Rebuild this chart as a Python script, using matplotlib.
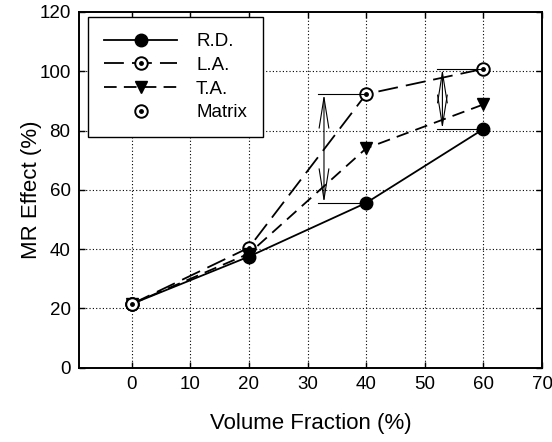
import matplotlib.pyplot as plt
from matplotlib.legend_handler import HandlerTuple

plt.rcParams['font.family'] = ['Liberation Sans', 'DejaVu Sans']

# data
vf = [0, 20, 40, 60]
rd = [21.5, 37.5, 55.6, 80.5]
la = [21.5, 40.5, 92.3, 100.8]
ta = [21.5, 38.5, 74.0, 88.8]
matrix_x = [0]
matrix_y = [21.5]

fig, ax = plt.subplots(figsize=(5.52, 4.42), dpi=100)
fig.subplots_adjust(left=0.143, right=0.982, top=0.973, bottom=0.168)

l_rd, = ax.plot(vf, rd, '-', color='k', lw=1.3, marker='o', ms=9,
                mfc='k', mec='k')
l_la, = ax.plot(vf, la, color='k', lw=1.3, dashes=(11, 4.5), marker='o',
                ms=9, mfc='white', mec='k', mew=1.4)
d_la, = ax.plot(vf, la, ls='none', marker='o', ms=2.5, color='k')
l_ta, = ax.plot(vf, ta, color='k', lw=1.3, dashes=(7, 4), marker='v',
                ms=9, mfc='k', mec='k')
m_o, = ax.plot(matrix_x, matrix_y, ls='none', marker='o', ms=9,
               mfc='white', mec='k', mew=1.4)
m_d, = ax.plot(matrix_x, matrix_y, ls='none', marker='o', ms=2.5, color='k')

# difference arrows
arr = dict(arrowstyle='<->,head_length=2.2,head_width=0.35', lw=0.8,
           color='k', shrinkA=0, shrinkB=0)
ax.plot([31.8, 40], [la[2], la[2]], color='k', lw=0.8)
ax.plot([31.8, 40], [rd[2], rd[2]], color='k', lw=0.8)
ax.annotate('', xy=(32.8, la[2]), xytext=(32.8, rd[2]), arrowprops=arr)
ax.plot([52.1, 60], [la[3], la[3]], color='k', lw=0.8)
ax.plot([52.1, 60], [rd[3], rd[3]], color='k', lw=0.8)
ax.annotate('', xy=(53, la[3]), xytext=(53, rd[3]), arrowprops=arr)

ax.set_xlim(-9, 70)
ax.set_ylim(0, 120)
ax.set_xticks(range(0, 71, 10))
ax.set_yticks(range(0, 121, 20))
ax.tick_params(direction='in', top=True, right=True, labelsize=13.5,
               length=4, width=1, pad=6)
for s in ax.spines.values():
    s.set_linewidth(1.4)

for x in range(0, 61, 10):
    ax.axvline(x, color='k', ls=(0, (1, 2)), lw=0.8, zorder=0)
for y in range(20, 101, 20):
    ax.axhline(y, color='k', ls=(0, (1, 2)), lw=0.8, zorder=0)

ax.set_xlabel('Volume Fraction (%)', fontsize=16, labelpad=14)
ax.set_ylabel('MR Effect (%)', fontsize=16, labelpad=-2)

leg = ax.legend([l_rd, (l_la, d_la), l_ta, (m_o, m_d)],
                ['R.D.', 'L.A.', 'T.A.', 'Matrix'],
                handler_map={tuple: HandlerTuple(ndivide=1, pad=0)},
                loc='upper left', bbox_to_anchor=(0.02, 0.985),
                fancybox=False, edgecolor='k', framealpha=1,
                handlelength=3.9, fontsize=13.5, borderpad=0.85,
                labelspacing=0.35, handletextpad=1.0, borderaxespad=0)
leg.get_frame().set_linewidth(1.0)

fig.savefig('out.png')
